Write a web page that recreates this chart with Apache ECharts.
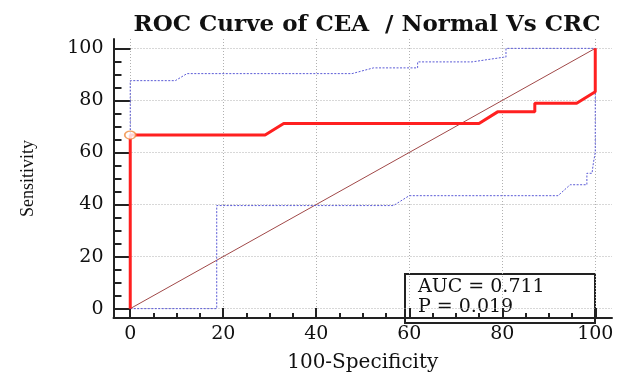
<!DOCTYPE html>
<html>
<head>
<meta charset="utf-8">
<script src="https://cdn.jsdelivr.net/npm/echarts@6/dist/echarts.min.js"></script>
<style>
  html, body { margin: 0; padding: 0; background: #fff; }
  #roc-chart { width: 624px; height: 378px; }
</style>
</head>
<body>
<div id="roc-chart"></div>
<script>
// ROC curve of CEA
const rocX = [0, 0, 29, 33, 75, 79, 87, 87, 96, 100, 100]
const rocY = [0, 66.7, 66.7, 71.1, 71.1, 75.6, 75.6, 78.9, 78.9, 83.3, 100]

// 95% confidence bounds (blue dotted)
const upperX = [0, 0, 9.7, 12.2, 47.7, 52.3, 61.8, 61.8, 73.5, 80.3, 80.8, 80.8, 100]
const upperY = [0, 87.6, 87.6, 90.3, 90.3, 92.5, 92.5, 94.8, 94.8, 96.6, 96.6, 100, 100]
const lowerX = [0, 18.6, 18.6, 56.6, 60, 92, 94.6, 98.2, 98.2, 99.3, 99.6, 100, 100]
const lowerY = [0, 0, 39.6, 39.6, 43.4, 43.4, 47.6, 47.6, 52, 52, 56, 60, 100]

// reference diagonal and the chosen cut-off point
const diagX = [0, 100]
const diagY = [0, 100]
const cutoffPoint = [0, 66.7]

const majorTicks = [0, 20, 40, 60, 80, 100]
const minorTicks = [5, 10, 15, 25, 30, 35, 45, 50, 55, 65, 70, 75, 85, 90, 95]
const statLines = ['AUC = 0.711', 'P = 0.019']

const zip = (xs, ys) => xs.map((x, i) => [x, ys[i]])

const initChart = () => {
  let element = document.getElementById('roc-chart')
  let myChart = echarts.init(element)
  const serif = '"DejaVu Serif", serif'
  const gridLine = { show: true, lineStyle: { color: '#b0b0b0', width: 1, type: [1, 2] } }
  const darkLine = { color: '#222', width: 2 }

  const mainAxis = (name) => ({
    type: 'value',
    min: -3.6,
    max: 103.6,
    axisLine: { show: true, onZero: false, lineStyle: darkLine },
    axisTick: { show: true, inside: true, customValues: majorTicks, lineStyle: darkLine },
    axisLabel: { customValues: majorTicks, color: '#111', fontFamily: serif, fontSize: 19 },
    splitLine: gridLine,
    name: name,
    nameLocation: 'middle'
  })
  // second axis on the same edge, only for the short ticks
  const minorAxis = (pos) => ({
    type: 'value',
    position: pos,
    offset: 0,
    min: -3.6,
    max: 103.6,
    axisLine: { show: false, onZero: false },
    axisTick: { show: true, inside: true, customValues: minorTicks, lineStyle: darkLine },
    axisLabel: { show: false },
    splitLine: { show: false }
  })

  let xMain = mainAxis('100-Specificity')
  xMain.position = 'bottom'
  xMain.axisTick.length = 10
  xMain.axisLabel.margin = 7
  xMain.nameGap = 35
  xMain.nameTextStyle = { fontFamily: serif, fontSize: 20, color: '#111' }
  let xMinor = minorAxis('bottom')
  xMinor.axisTick.length = 5

  let yMain = mainAxis('Sensitivity')
  yMain.position = 'left'
  yMain.axisTick.length = 17
  yMain.axisLabel.margin = 10
  yMain.nameGap = 76
  yMain.nameTextStyle = { fontFamily: '"Liberation Serif", serif', fontSize: 18, color: '#111' }
  let yMinor = minorAxis('left')
  yMinor.axisTick.length = 8

  let option = {
    animation: false,
    title: {
      text: 'ROC Curve of CEA  / Normal Vs CRC',
      left: 362,
      textAlign: 'center',
      top: 9,
      textStyle: { fontFamily: serif, fontWeight: 'bold', fontSize: 23, color: '#111' }
    },
    grid: { left: 113.5, right: 12, top: 39, bottom: 45 },
    xAxis: [xMain, xMinor],
    yAxis: [yMain, yMinor],
    series: [
      {
        name: 'diagonal',
        type: 'line',
        showSymbol: false,
        data: zip(diagX, diagY),
        lineStyle: { color: '#a04848', width: 1 }
      },
      {
        name: 'upper',
        type: 'line',
        showSymbol: false,
        data: zip(upperX, upperY),
        lineStyle: { color: '#5a5ad6', width: 1, type: [2, 1.5] }
      },
      {
        name: 'lower',
        type: 'line',
        showSymbol: false,
        data: zip(lowerX, lowerY),
        lineStyle: { color: '#5a5ad6', width: 1, type: [2, 1.5] }
      },
      {
        name: 'ROC',
        type: 'line',
        showSymbol: false,
        data: zip(rocX, rocY),
        lineStyle: { color: '#ff2020', width: 3 }
      },
      {
        name: 'cutoff',
        type: 'scatter',
        data: [cutoffPoint],
        symbol: 'circle',
        symbolSize: [11, 8],
        itemStyle: { color: '#fff', borderColor: '#f08a3c', borderWidth: 1.5 },
        z: 5
      }
    ],
    graphic: [
      {
        type: 'group',
        left: 404,
        top: 273,
        children: [
          {
            type: 'rect',
            shape: { x: 0, y: 0, width: 190, height: 49 },
            style: { fill: '#fff', stroke: '#222', lineWidth: 2 }
          },
          {
            type: 'text',
            x: 13,
            y: 3,
            style: { text: statLines.join('\n'), font: '19px "DejaVu Serif"', lineHeight: 20, fill: '#111' }
          }
        ]
      }
    ]
  }
  option && myChart.setOption(option)
}

initChart()
</script>
</body>
</html>
